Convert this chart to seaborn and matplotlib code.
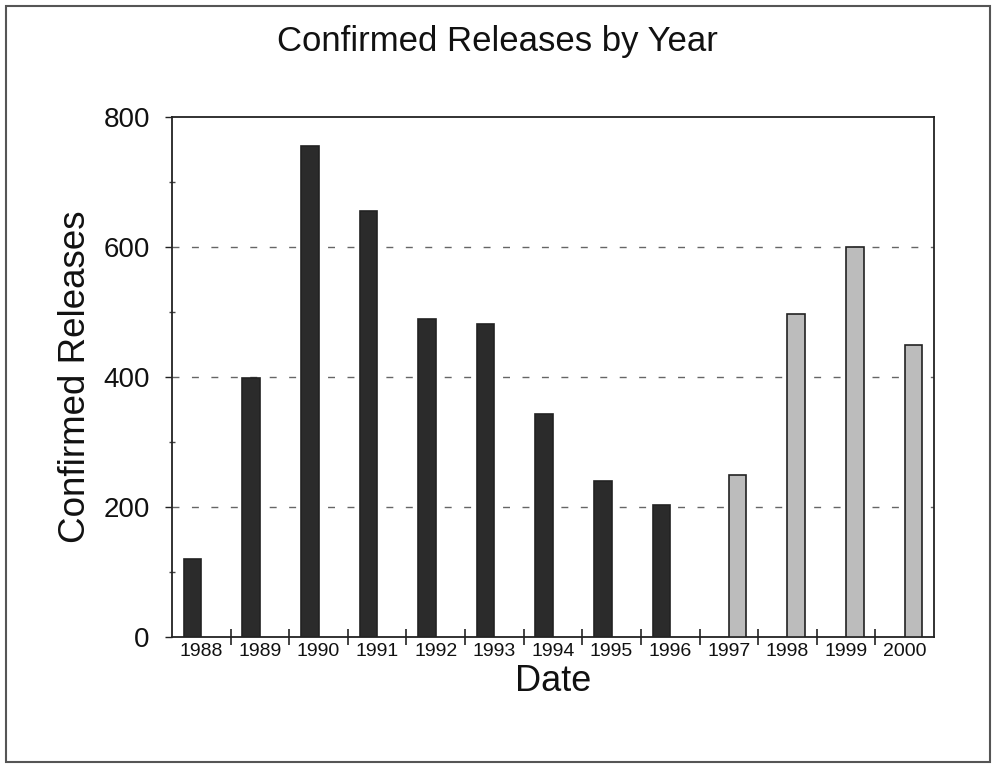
import matplotlib
matplotlib.use("Agg")
import matplotlib.pyplot as plt
from matplotlib.patches import Rectangle
from matplotlib.ticker import MultipleLocator, FixedLocator
import seaborn as sns
import pandas as pd

years = ["1988", "1989", "1990", "1991", "1992", "1993", "1994",
         "1995", "1996", "1997", "1998", "1999", "2000"]
releases = [120, 398, 755, 655, 490, 482, 343, 240, 203, 250, 497, 600, 450]
series = ["Confirmed"] * 9 + ["Projected"] * 4
series_order = ["Confirmed", "Projected"]
series_colors = {"Confirmed": "#2b2b2b", "Projected": "#bcbcbc"}

df = pd.DataFrame({"year": years, "releases": releases, "series": series})

sns.set_theme(style="white")
plt.rcParams["font.family"] = ["Liberation Sans", "DejaVu Sans"]

fig = plt.figure(figsize=(9.94, 7.65), dpi=100)
ax = fig.add_axes([172 / 994, 1 - 637 / 765, (934 - 172) / 994, (637 - 117) / 765])

sns.barplot(data=df, x="year", y="releases", hue="series", hue_order=series_order,
            order=years, palette=series_colors, dodge=True, width=0.6,
            edgecolor="#222222", linewidth=1.2, legend=False, ax=ax, zorder=3)

ax.set_ylim(0, 800)
ax.set_xlim(-0.5, len(years) - 0.5)
ax.yaxis.set_major_locator(MultipleLocator(200))
ax.yaxis.set_minor_locator(MultipleLocator(100))
ax.grid(False)
for v in [200, 400, 600]:
    ax.axhline(v, color="#666666", lw=1.0, ls=(0, (5, 9)), zorder=1)

for s in ax.spines.values():
    s.set_visible(True)
    s.set_color("#222222")
    s.set_linewidth(1.3)

ax.tick_params(axis="y", which="major", direction="out", length=5, width=1,
               color="#222222", labelsize=20, pad=11, left=True)
ax.tick_params(axis="y", which="minor", direction="inout", length=4, width=1,
               color="#444444", left=True)
ax.xaxis.set_minor_locator(FixedLocator([i + 0.5 for i in range(len(years) - 1)]))
ax.tick_params(axis="x", which="major", length=0, labelsize=14, pad=4)
ax.tick_params(axis="x", which="minor", direction="inout", length=11, width=1.2,
               color="#222222", bottom=True)

ax.set_xlabel("Date", fontsize=26, color="#111111")
ax.xaxis.set_label_coords(0.5, -0.052)
ax.xaxis.label.set_va("top")
ax.set_ylabel("Confirmed Releases", fontsize=26.5, color="#111111")
ax.yaxis.set_label_coords(-0.127, 0.5)
ax.yaxis.label.set_va("center")

for lab in ax.get_xticklabels() + ax.get_yticklabels():
    lab.set_color("#111111")

fig.text(0.5, 1 - 41 / 765, "Confirmed Releases by Year", ha="center", va="center",
         fontsize=25, color="#111111")

fig.patches.append(Rectangle((6 / 994, 3 / 765), (990 - 6) / 994, (761 - 5) / 765,
                             transform=fig.transFigure, fill=False,
                             edgecolor="#555555", lw=1.5))

fig.savefig("out.png", dpi=100)
